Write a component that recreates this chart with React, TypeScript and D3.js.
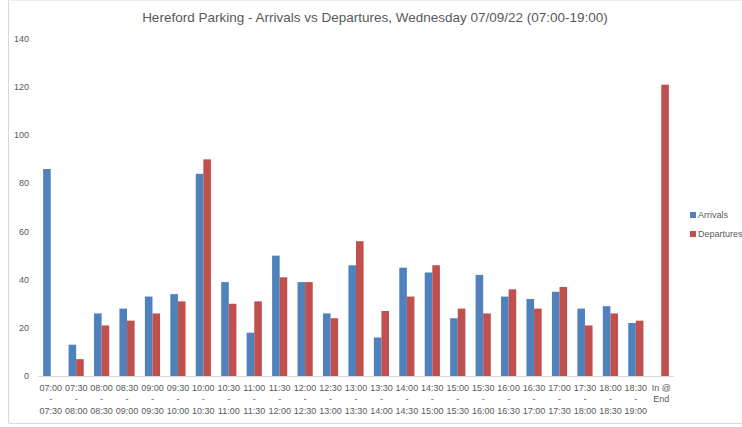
import React from 'react';
import * as d3 from 'd3';

// half-hour slots, plus the cars still in at the end
const slotStarts = ['07:00', '07:30', '08:00', '08:30', '09:00', '09:30', '10:00', '10:30', '11:00', '11:30', '12:00', '12:30', '13:00', '13:30', '14:00', '14:30', '15:00', '15:30', '16:00', '16:30', '17:00', '17:30', '18:00', '18:30', 'In @'];
const slotEnds = ['07:30', '08:00', '08:30', '09:00', '09:30', '10:00', '10:30', '11:00', '11:30', '12:00', '12:30', '13:00', '13:30', '14:00', '14:30', '15:00', '15:30', '16:00', '16:30', '17:00', '17:30', '18:00', '18:30', '19:00', 'End'];

const arrivals = [86, 13, 26, 28, 33, 34, 84, 39, 18, 50, 39, 26, 46, 16, 45, 43, 24, 42, 33, 32, 35, 28, 29, 22, null];
const departures = [null, 7, 21, 23, 26, 31, 90, 30, 31, 41, 39, 24, 56, 27, 33, 46, 28, 26, 36, 28, 37, 21, 26, 23, 121];

const yTicks = [0, 20, 40, 60, 80, 100, 120, 140];
const seriesNames = ['Arrivals', 'Departures'];
const seriesColors = ['#4F81BD', '#C0504D'];

const W = 742;
const H = 427;
const font = '"Liberation Sans", Arial, sans-serif';
const grey = '#595959';

export default function App() {
  const cats = slotStarts.map((s, i) => s + '|' + i);
  const x0 = d3.scaleBand().domain(cats).range([38, 674]).paddingInner(0).paddingOuter(0);
  const x1 = d3.scaleBand().domain(seriesNames).range([0, x0.bandwidth()]).paddingInner(0).paddingOuter(0.675);
  const y = d3.scaleLinear().domain([0, 140]).range([376, 39]);
  const series = [arrivals, departures];

  return (
    <svg width={W} height={H} style={{ position: 'absolute', left: 0, top: 0 }} fontFamily={font}>
      <rect x={0} y={0} width={W} height={H} fill="#fff" />
      {/* chart border */}
      <line x1={8.5} x2={8.5} y1={0} y2={423} stroke="#d9d9d9" />
      <line x1={8.5} x2={W} y1={0.5} y2={0.5} stroke="#eeeeee" />
      <line x1={8.5} x2={W} y1={423.5} y2={423.5} stroke="#d9d9d9" />

      <text x={375} y={22} textAnchor="middle" fontSize={13.5} fill={grey} fontFamily='"Liberation Sans Narrow", "Liberation Sans", sans-serif'>
        Hereford Parking - Arrivals vs Departures, Wednesday 07/09/22 (07:00-19:00)
      </text>

      {yTicks.map((t) => (
        <text key={t} x={29} y={y(t) + 3} textAnchor="end" fontSize={9} fill={grey}>{t}</text>
      ))}

      {series.map((vals, si) =>
        vals.map((v, i) =>
          v == null ? null : (
            <rect
              key={si + '-' + i}
              x={(x0(cats[i]) as number) + (x1(seriesNames[si]) as number)}
              y={y(v)}
              width={x1.bandwidth()}
              height={y(0) - y(v)}
              fill={seriesColors[si]}
            />
          )
        )
      )}

      <line x1={38} x2={674} y1={376.5} y2={376.5} stroke="#d9d9d9" />

      {cats.map((c, i) => {
        const cx = (x0(c) as number) + x0.bandwidth() / 2;
        const last = i === cats.length - 1;
        return (
          <g key={c} fontSize={9} fill={grey} textAnchor="middle">
            <text x={cx} y={391}>{slotStarts[i]}</text>
            {last ? null : <text x={cx} y={402}>-</text>}
            <text x={cx} y={last ? 402 : 414}>{slotEnds[i]}</text>
          </g>
        );
      })}

      {seriesNames.map((n, i) => (
        <g key={n}>
          <rect x={690} y={212 + i * 19} width={6} height={6} fill={seriesColors[i]} />
          <text x={698} y={218 + i * 19} fontSize={9} fill={grey}>{n}</text>
        </g>
      ))}
    </svg>
  );
}
